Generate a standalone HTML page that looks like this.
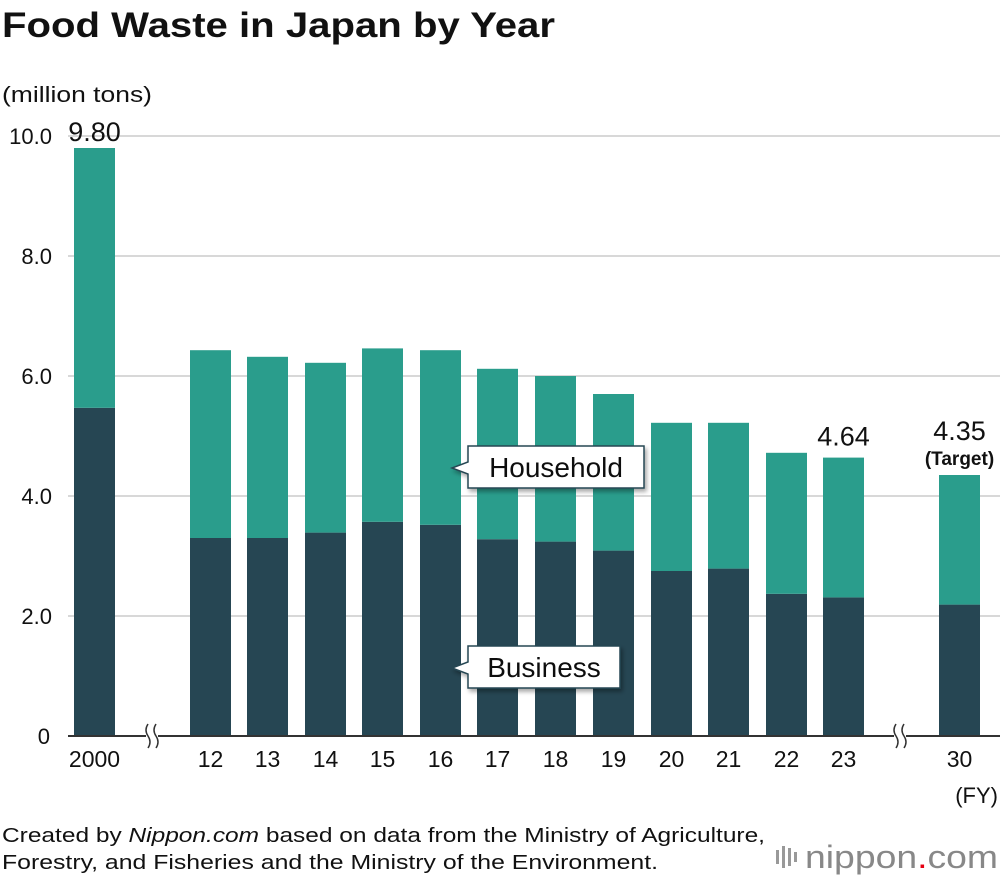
<!DOCTYPE html>
<html><head><meta charset="utf-8"><style>
body{margin:0;background:#fff;font-family:"Liberation Sans",Arial,sans-serif;}
#wrap{position:relative;width:1000px;height:880px;overflow:hidden;}
</style></head><body>
<div id="wrap">
<svg id="chart" width="1000" height="880" xmlns="http://www.w3.org/2000/svg">
<defs><filter id="sh" x="-10%" y="-10%" width="130%" height="140%"><feDropShadow dx="2" dy="3" stdDeviation="2" flood-color="#000" flood-opacity="0.35"/></filter></defs>
<text x="2" y="37" font-size="35" font-weight="bold" fill="#111" textLength="553" lengthAdjust="spacingAndGlyphs">Food Waste in Japan by Year</text>
<text x="2" y="102" font-size="22" fill="#111" textLength="150" lengthAdjust="spacingAndGlyphs">(million tons)</text>
<g id="grid"></g><g id="bars"></g><g id="labels"></g>
<text x="998" y="803" font-size="22" text-anchor="end" fill="#111">(FY)</text>
<text x="2" y="842" font-size="20" fill="#111" textLength="763" lengthAdjust="spacingAndGlyphs">Created by <tspan font-style="italic">Nippon.com</tspan> based on data from the Ministry of Agriculture,</text>
<text x="2" y="869" font-size="20" fill="#111" textLength="656" lengthAdjust="spacingAndGlyphs">Forestry, and Fisheries and the Ministry of the Environment.</text>
<g>
<rect x="776" y="850" width="3" height="14" fill="#999"/><rect x="782" y="846" width="3" height="22" fill="#999"/><rect x="788" y="848" width="3" height="18" fill="#999"/><rect x="794" y="852" width="3" height="10" fill="#999"/>
<text x="805" y="868" font-size="32" fill="#888" textLength="193" lengthAdjust="spacingAndGlyphs">nippon<tspan fill="#e60012">.</tspan>com</text></g>
</svg></div>
<script>
const categories=["2000","12","13","14","15","16","17","18","19","20","21","22","23","30"];
const business=[5.47,3.30,3.30,3.39,3.57,3.52,3.28,3.24,3.09,2.75,2.79,2.37,2.31,2.19];
const totals=[9.80,6.43,6.32,6.22,6.46,6.43,6.12,6.00,5.70,5.22,5.22,4.72,4.64,4.35];
const yTicks=[0,2,4,6,8,10];
const yTickLabels=["0","2.0","4.0","6.0","8.0","10.0"];
const NS="http://www.w3.org/2000/svg";
const slotX=[74,190,247,305,362,420,477,535,593,651,708,766,823,939];
const bw=41;
function y(v){return 736-v*60;}
function mk(t,a,p){const e=document.createElementNS(NS,t);for(const k in a)e.setAttribute(k,a[k]);p.appendChild(e);return e;}
const grid=document.getElementById('grid'),bars=document.getElementById('bars'),lab=document.getElementById('labels');
yTicks.forEach((t,i)=>{
 if(t>0){const l=mk('line',{x1:68,x2:1000,y1:y(t),y2:y(t),stroke:'#ccc','stroke-width':1.5},grid);
 
 }
 const tx=mk('text',{x:t===0?50:52,y:y(t)+8,'font-size':22,'text-anchor':'end',fill:'#111'},grid);tx.textContent=yTickLabels[i];
 
 
});
categories.forEach((c,i)=>{
 const x=slotX[i];
 const b=mk('rect',{x:x,y:y(business[i]),width:bw,height:y(0)-y(business[i]),fill:'#264653'},bars);
 
 
 const h=mk('rect',{x:x,y:y(totals[i]),width:bw,height:y(business[i])-y(totals[i]),fill:'#2a9d8c'},bars);
 
 
 const t=mk('text',{x:x+bw/2+(i===0?0:0),y:767,'font-size':23,'text-anchor':'middle',fill:'#111'},lab);t.textContent=c;
 
 
});
const base=mk('line',{x1:68,x2:1000,y1:736,y2:736,stroke:'#333','stroke-width':2},bars);


[152,900].forEach(bx=>{
 const g=mk('g',{},bars);
 
 
 mk('rect',{x:bx-6,y:722,width:12,height:28,fill:'#fff'},g);
 mk('path',{d:`M${bx-4},724 q-4,6 0,12 q4,6 0,12`,fill:'none',stroke:'#333','stroke-width':1.5},g);
 mk('path',{d:`M${bx+4},724 q-4,6 0,12 q4,6 0,12`,fill:'none',stroke:'#333','stroke-width':1.5},g);
});
function val(i,txt,dy){const t=mk('text',{x:slotX[i]+bw/2,y:y(totals[i])-dy,'font-size':27,'text-anchor':'middle',fill:'#111'},lab);t.textContent=txt;
 
 }
val(0,totals[0].toFixed(2),7);val(12,totals[12].toFixed(2),12);val(13,totals[13].toFixed(2),35);
const tg=mk('text',{x:slotX[13]+bw/2,y:y(totals[13])-10,'font-size':19,'font-weight':'bold','text-anchor':'middle',fill:'#111'},lab);tg.textContent="(Target)";


function callout(x,yy,w,txt,name){
 const g=mk('g',{filter:'url(#sh)'},lab);
 
 
 mk('path',{d:`M${x},${yy} h${w} v42 h${-w} v-14 l-16,-6 l16,-6 z`,fill:'#fff',stroke:'#264653','stroke-width':1.5},g);
 const t=mk('text',{x:x+w/2,y:yy+31,'font-size':28,'text-anchor':'middle',fill:'#111'},g);t.textContent=txt;
}
callout(468,446,176,"Household","household-callout");
callout(468,646,152,"Business","business-callout");
</script>
</body></html>
